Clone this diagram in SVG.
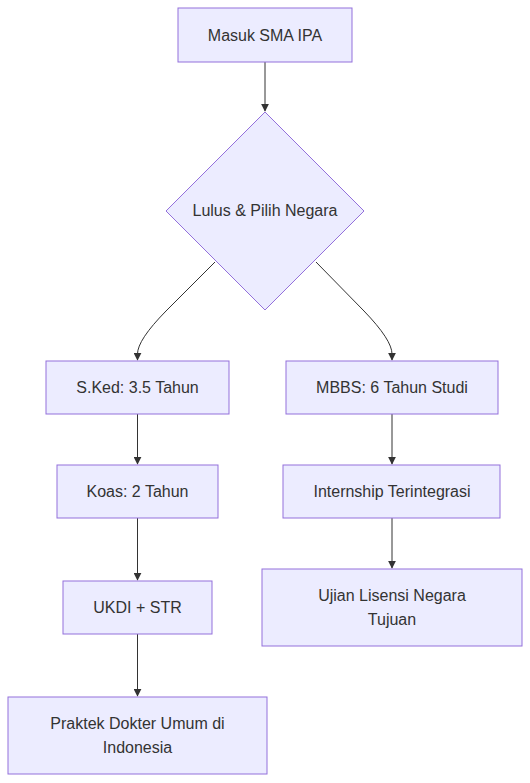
<svg xmlns="http://www.w3.org/2000/svg" width="530" height="783" viewBox="0 0 530 783">
<style>
.node rect,.node polygon{fill:#ECECFF;stroke:#9370DB;stroke-width:1}
.node text{font-family:"Liberation Sans",Arial,sans-serif;font-size:16px;fill:#333;text-anchor:middle}
.edges path{fill:none;stroke:#333;stroke-width:1}
</style>
<defs>
<marker id="arr" viewBox="0 0 10 10" refX="9" refY="5" markerWidth="8" markerHeight="8" markerUnits="userSpaceOnUse" orient="auto">
<path d="M0,0 L10,5 L0,10 z" fill="#333"/>
</marker>
</defs>
<rect width="530" height="783" fill="#fff"/>
<g class="edges">
<path d="M265,62 L265,111" marker-end="url(#arr)"/>
<path d="M215,262 L166,311 Q137.5,340 137.5,354 L137.5,360" marker-end="url(#arr)"/>
<path d="M316,262 L364,311 Q392,340 392,354 L392,360" marker-end="url(#arr)"/>
<path d="M137.5,414 L137.5,464" marker-end="url(#arr)"/>
<path d="M137.5,518 L137.5,580" marker-end="url(#arr)"/>
<path d="M137.5,634 L137.5,696" marker-end="url(#arr)"/>
<path d="M392,414 L392,464" marker-end="url(#arr)"/>
<path d="M392,518 L392,568" marker-end="url(#arr)"/>
</g>
<g id="A" class="node"><rect x="178" y="8" width="174" height="54"/><text x="265" y="41">Masuk SMA IPA</text></g>
<g id="Dec" class="node"><polygon points="265,112 364,211 265,310 166,211"/><text x="265" y="216">Lulus &amp; Pilih Negara</text></g>
<g id="B" class="node"><rect x="46" y="361" width="183" height="53"/><text x="137.5" y="393">S.Ked: 3.5 Tahun</text></g>
<g id="C" class="node"><rect x="57" y="465" width="161" height="53"/><text x="137.5" y="497">Koas: 2 Tahun</text></g>
<g id="D" class="node"><rect x="63" y="581" width="149" height="53"/><text x="137.5" y="613">UKDI + STR</text></g>
<g id="E" class="node"><rect x="8" y="697" width="259" height="77"/><text x="137.5" y="729">Praktek Dokter Umum di</text><text x="137.5" y="753">Indonesia</text></g>
<g id="F" class="node"><rect x="286" y="361" width="212" height="53"/><text x="392" y="393">MBBS: 6 Tahun Studi</text></g>
<g id="G" class="node"><rect x="283" y="465" width="217" height="53"/><text x="392" y="497">Internship Terintegrasi</text></g>
<g id="H" class="node"><rect x="262" y="569" width="260" height="77"/><text x="392" y="601">Ujian Lisensi Negara</text><text x="392" y="625">Tujuan</text></g>
</svg>
